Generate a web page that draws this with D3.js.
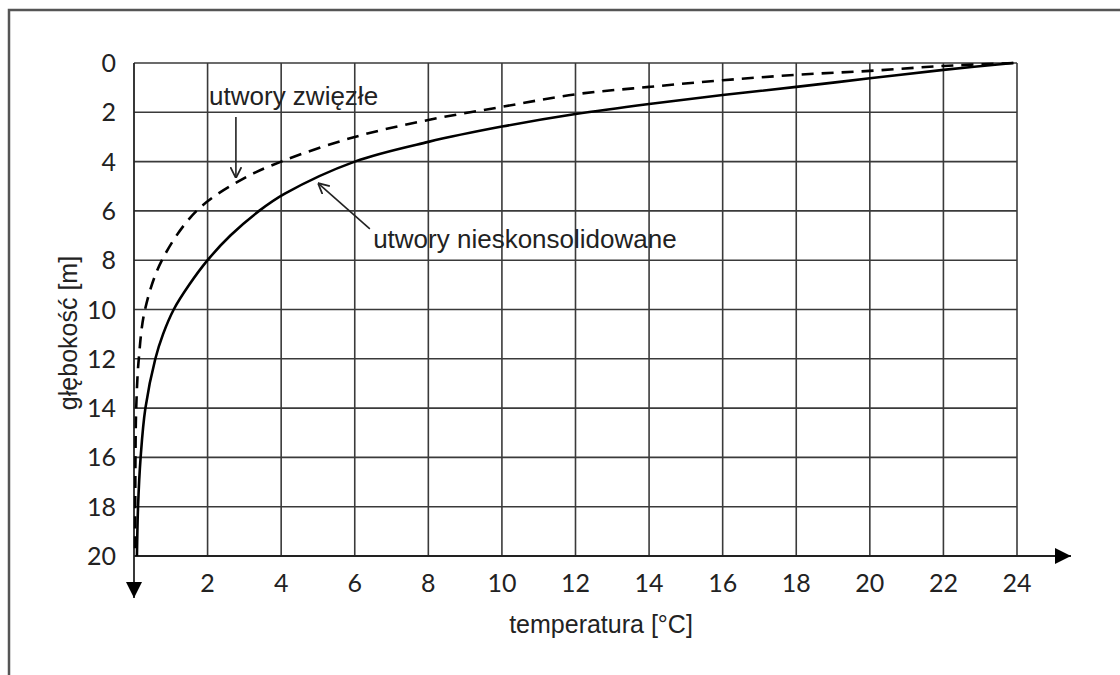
<!DOCTYPE html>
<html>
<head>
<meta charset="utf-8">
<script src="https://cdn.jsdelivr.net/npm/d3@7"></script>
<style>
  body { margin: 0; background: #fff; }
  svg { display: block; }
</style>
</head>
<body>
<div class="chart"></div>
<script>
// ticks
const tempTicks = [2, 4, 6, 8, 10, 12, 14, 16, 18, 20, 22, 24]
const depthTicks = [0, 2, 4, 6, 8, 10, 12, 14, 16, 18, 20]

// utwory nieskonsolidowane (solid)
const looseTemp = [23.9, 22, 20, 18, 16, 14, 12, 10, 8, 6, 4.1, 3.4, 2.62, 2.0, 1.5, 1.08, 0.79, 0.58, 0.31, 0.18, 0.11, 0.08]
const looseDepth = [0, 0.28, 0.62, 0.97, 1.3, 1.66, 2.07, 2.58, 3.2, 4.0, 5.3, 6, 7, 8, 9, 10, 11, 12, 14, 16, 18, 20]

// utwory zwięzłe (dashed)
const compactTemp = [23.9, 22, 20, 18, 16, 14, 12, 10, 8, 6, 4, 2.9, 1.7, 0.76, 0.3, 0.13, 0.06, 0.04, 0.03]
const compactDepth = [0, 0.12, 0.32, 0.48, 0.7, 0.97, 1.27, 1.78, 2.31, 3.0, 4.0, 4.75, 6, 8, 10, 12, 14, 16, 20]

const width = 1120, height = 675

const svg = d3.select('.chart')
    .append('svg')
    .attr('width', width)
    .attr('height', height)

const x = d3.scaleLinear().domain([0, 24]).range([134, 1017])
const y = d3.scaleLinear().domain([0, 20]).range([63, 556])

// outer frame
svg.append('rect')
    .attr('x', 9).attr('y', 10)
    .attr('width', 1200).attr('height', 800)
    .attr('fill', 'none')
    .attr('stroke', '#555')
    .attr('stroke-width', 2.5)

const defs = svg.append('defs')
defs.append('marker')
    .attr('id', 'tri')
    .attr('viewBox', '0 0 10 10')
    .attr('refX', 10).attr('refY', 5)
    .attr('markerWidth', 17).attr('markerHeight', 16)
    .attr('markerUnits', 'userSpaceOnUse')
    .attr('orient', 'auto')
    .append('path')
    .attr('d', 'M0,0L10,5L0,10Z')
    .attr('fill', '#000')
defs.append('marker')
    .attr('id', 'open')
    .attr('viewBox', '0 0 10 10')
    .attr('refX', 10).attr('refY', 5)
    .attr('markerWidth', 11).attr('markerHeight', 12)
    .attr('markerUnits', 'userSpaceOnUse')
    .attr('orient', 'auto')
    .append('path')
    .attr('d', 'M0,0L10,5L0,10')
    .attr('fill', 'none')
    .attr('stroke', '#222')
    .attr('stroke-width', 1.6)

const grid = svg.append('g')
    .attr('stroke', '#3a3a3a')
    .attr('stroke-width', 1.6)

grid.selectAll('.v')
    .data(tempTicks)
    .enter()
    .append('line')
    .attr('x1', d => x(d)).attr('x2', d => x(d))
    .attr('y1', y(0)).attr('y2', y(20))

grid.selectAll('.h')
    .data(depthTicks.slice(0, -1))
    .enter()
    .append('line')
    .attr('x1', x(0)).attr('x2', x(24))
    .attr('y1', d => y(d)).attr('y2', d => y(d))

// axes with arrows
svg.append('line')
    .attr('x1', x(0)).attr('x2', x(24) + 54)
    .attr('y1', y(20)).attr('y2', y(20))
    .attr('stroke', '#222').attr('stroke-width', 1.8)
    .attr('marker-end', 'url(#tri)')
svg.append('line')
    .attr('x1', x(0)).attr('x2', x(0))
    .attr('y1', y(0)).attr('y2', y(20) + 42)
    .attr('stroke', '#222').attr('stroke-width', 1.8)
    .attr('marker-end', 'url(#tri)')

// tick labels
const tickFont = 'Lato, "DejaVu Sans", sans-serif'
svg.append('g')
    .selectAll('text')
    .data(tempTicks)
    .enter()
    .append('text')
    .attr('x', d => x(d))
    .attr('y', 592)
    .attr('text-anchor', 'middle')
    .style('font-family', tickFont)
    .style('font-size', '25px')
    .attr('fill', '#222')
    .text(d => d)

svg.append('g')
    .selectAll('text')
    .data(depthTicks)
    .enter()
    .append('text')
    .attr('x', 116)
    .attr('y', d => y(d))
    .attr('dy', '0.36em')
    .attr('text-anchor', 'end')
    .style('font-family', tickFont)
    .style('font-size', '25px')
    .attr('fill', '#222')
    .text(d => d)

// axis titles
const labelFont = '"Liberation Sans", Arial, sans-serif'
svg.append('text')
    .attr('x', 601).attr('y', 633)
    .attr('text-anchor', 'middle')
    .style('font-family', labelFont)
    .style('font-size', '25px')
    .attr('fill', '#222')
    .text('temperatura [°C]')

svg.append('text')
    .attr('transform', 'translate(77,333) rotate(-90)')
    .attr('text-anchor', 'middle')
    .style('font-family', labelFont)
    .style('font-size', '25px')
    .attr('fill', '#222')
    .text('głębokość [m]')

// curves
const line = d3.line()
    .x(d => x(d[0]))
    .y(d => y(d[1]))
    .curve(d3.curveCatmullRom.alpha(0.5))

svg.append('path')
    .datum(d3.zip(looseTemp, looseDepth))
    .attr('d', line)
    .attr('fill', 'none')
    .attr('stroke', '#000')
    .attr('stroke-width', 2.6)

svg.append('path')
    .datum(d3.zip(compactTemp, compactDepth))
    .attr('d', line)
    .attr('fill', 'none')
    .attr('stroke', '#000')
    .attr('stroke-width', 2.6)
    .attr('stroke-dasharray', '12,8')

// annotations
svg.append('text')
    .attr('x', x(2.04)).attr('y', y(1.7))
    .style('font-family', labelFont)
    .style('font-size', '26px')
    .attr('fill', '#222')
    .text('utwory zwięzłe')

svg.append('line')
    .attr('x1', x(2.77)).attr('y1', y(2.19))
    .attr('x2', x(2.77)).attr('y2', y(4.67))
    .attr('stroke', '#222').attr('stroke-width', 1.6)
    .attr('marker-end', 'url(#open)')

svg.append('text')
    .attr('x', x(6.5)).attr('y', y(7.5))
    .style('font-family', labelFont)
    .style('font-size', '26px')
    .attr('fill', '#222')
    .text('utwory nieskonsolidowane')

svg.append('line')
    .attr('x1', x(6.41)).attr('y1', y(6.73))
    .attr('x2', x(5.0)).attr('y2', y(4.87))
    .attr('stroke', '#222').attr('stroke-width', 1.6)
    .attr('marker-end', 'url(#open)')
</script>
</body>
</html>
